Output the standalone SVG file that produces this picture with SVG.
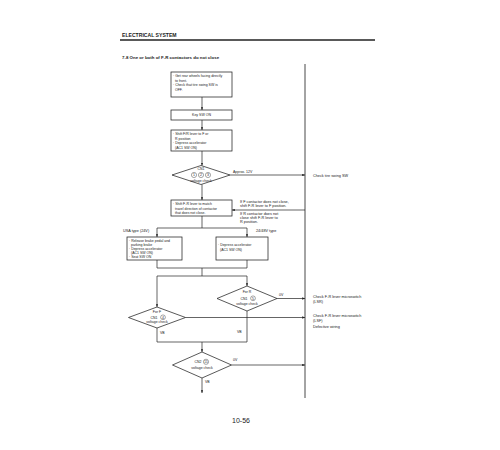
<svg xmlns="http://www.w3.org/2000/svg" width="500" height="450" viewBox="0 0 500 450">
<defs>
<marker id="ah" viewBox="0 0 6 6" refX="6" refY="3" markerWidth="4" markerHeight="4" orient="auto">
<path d="M0,0.5 L6,3 L0,5.5 z" fill="#222"/>
</marker>
<style>
text{font-family:"Liberation Sans",Arial,sans-serif;fill:#1a1a1a;font-size:3.5px}
.b{fill:#fff;stroke:#222;stroke-width:0.75}
.c{fill:none;stroke:#222;stroke-width:0.7}
.a{fill:none;stroke:#222;stroke-width:0.7;marker-end:url(#ah)}
.m{text-anchor:middle}
.h{font-weight:bold}
.o{fill:#fff;stroke:#222;stroke-width:0.4}
.r{font-size:3.8px}
</style>
</defs>
<rect width="500" height="450" fill="#fff"/>
<text x="122" y="37" class="h" style="font-size:5.1px">ELECTRICAL SYSTEM</text>
<line x1="120" y1="40" x2="375" y2="40" stroke="#222" stroke-width="1.4"/>
<text x="122" y="59" class="h" style="font-size:4.4px">7-8   One or both of F-R contactors do not close</text>
<line x1="305" y1="64" x2="305" y2="398" stroke="#333" stroke-width="0.9"/>

<g id="n1"><rect x="171" y="72" width="61" height="25" class="b"/>
<text x="173" y="77">· Get rear wheels facing directly</text><text x="175" y="81.5">to front.</text>
<text x="173" y="86">· Check that tire swing SW is</text><text x="175" y="90.5">OFF.</text></g>
<g id="n2"><rect x="171" y="110" width="61" height="10" class="b"/><text x="201.5" y="116.3" class="m">Key SW ON</text></g>
<g id="n3"><rect x="171" y="130" width="61" height="21" class="b"/>
<text x="173" y="135">· Shift F/R lever to F or</text><text x="175" y="139.5">R position</text>
<text x="173" y="144">· Depress accelerator</text><text x="175" y="148.5">(AC1 SW ON)</text></g>
<g id="d1"><polygon points="201,165.5 230,175 201,184.5 172,175" class="b"/>
<text x="201" y="170" class="m">CN1</text>
<circle cx="194" cy="175" r="2.6" class="o"/><circle cx="201" cy="175" r="2.6" class="o"/><circle cx="208" cy="175" r="2.6" class="o"/>
<text x="194" y="176.3" class="m">1</text><text x="201" y="176.3" class="m">2</text><text x="208" y="176.3" class="m">3</text>
<text x="201" y="181.5" class="m">voltage check</text></g>
<g id="n4"><rect x="171" y="200" width="61" height="16" class="b"/>
<text x="173" y="205">· Shift F-R lever to match</text><text x="175" y="209.5">travel direction of contactor</text><text x="175" y="214">that does not close.</text></g>
<g id="n5"><rect x="127" y="237" width="55" height="23" class="b"/>
<text x="129" y="241.5">· Release brake pedal and</text><text x="131" y="245.5">parking brake</text>
<text x="129" y="249.5">· Depress accelerator</text><text x="131" y="253.5">(AC1 SW ON)</text><text x="129" y="257.5">· Seat SW ON</text></g>
<g id="n6"><rect x="216" y="237" width="52" height="23" class="b"/>
<text x="218" y="246">· Depress accelerator</text><text x="220" y="250.5">(AC1 SW ON)</text></g>
<g id="d2"><polygon points="247,286 277,298.5 247,311 217,298.5" class="b"/>
<text x="247" y="293" class="m">For R</text><text x="244" y="299.5" class="m">CN1</text>
<circle cx="253" cy="298.3" r="2.4" class="o"/><text x="253" y="299.6" class="m">5</text>
<text x="247" y="304.5" class="m">voltage check</text></g>
<g id="d3"><polygon points="157,307 185.5,317.5 157,328 128.5,317.5" class="b"/>
<text x="157" y="312.5" class="m">For F</text><text x="154" y="318.5" class="m">CN1</text>
<circle cx="163" cy="317.3" r="2.4" class="o"/><text x="163" y="318.6" class="m">4</text>
<text x="157" y="323" class="m">voltage check</text></g>
<g id="d4"><polygon points="202,352 231.5,365 202,378 172.5,365" class="b"/>
<text x="198" y="363" class="m">CN2</text>
<circle cx="206" cy="361.8" r="2.6" class="o"/><text x="206" y="363" class="m" style="font-size:3px">15</text>
<text x="202" y="368.5" class="m">voltage check</text></g>

<g id="connectors">
<line x1="202" y1="97" x2="202" y2="110" class="a"/>
<line x1="202" y1="120" x2="202" y2="130" class="a"/>
<line x1="202" y1="151" x2="202" y2="165.5" class="a"/>
<line x1="230" y1="175" x2="305" y2="175" class="a"/>
<line x1="202" y1="184.5" x2="202" y2="200" class="a"/>
<line x1="305" y1="210" x2="232" y2="210" class="a"/>
<polyline points="202,216 202,228" class="c"/>
<line x1="157" y1="228" x2="247" y2="228" class="c"/>
<line x1="157" y1="228" x2="157" y2="237" class="a"/>
<line x1="247" y1="228" x2="247" y2="237" class="a"/>
<polyline points="157,260 157,268 247,268 247,260" class="c"/>
<line x1="202" y1="268" x2="202" y2="276" class="c"/>
<line x1="157" y1="276" x2="247" y2="276" class="c"/>
<line x1="157" y1="276" x2="157" y2="307" class="a"/>
<line x1="247" y1="276" x2="247" y2="286" class="a"/>
<line x1="277" y1="298.5" x2="305" y2="298.5" class="a"/>
<line x1="185.5" y1="317.5" x2="305" y2="317.5" class="a"/>
<polyline points="157,328 157,342 247,342 247,311" class="c"/>
<line x1="202" y1="342" x2="202" y2="352" class="a"/>
<line x1="231.5" y1="365" x2="305" y2="365" class="a"/>
<line x1="202" y1="378" x2="202" y2="393" class="a"/>
</g>

<text x="233" y="173">Approx. 12V</text>
<text x="313" y="177" class="r">Check tire swing SW</text>
<text x="240" y="203" class="r">If F contactor does not close,</text>
<text x="240" y="207.2" class="r">shift F-R lever to F position.</text>
<text x="240" y="215" class="r">If R contactor does not</text>
<text x="240" y="219.2" class="r">close shift F-R lever to</text>
<text x="240" y="223.4" class="r">R position.</text>
<text x="123" y="232" class="r">USA type (24V)</text>
<text x="256" y="232" class="r">24/48V type</text>
<text x="279" y="296">0V</text>
<text x="313" y="298" class="r">Check F-R lever microswitch</text>
<text x="313" y="302.5" class="r">(LSR)</text>
<text x="313" y="317" class="r">Check F-R lever microswitch</text>
<text x="313" y="321.5" class="r">(LSF)</text>
<text x="313" y="327.5" class="r">Defective wiring</text>
<text x="160" y="334">VB</text>
<text x="237" y="333">VB</text>
<text x="233" y="361">0V</text>
<text x="205" y="383">VB</text>
<text x="241" y="423" class="m" style="font-size:7px">10-56</text>
</svg>
